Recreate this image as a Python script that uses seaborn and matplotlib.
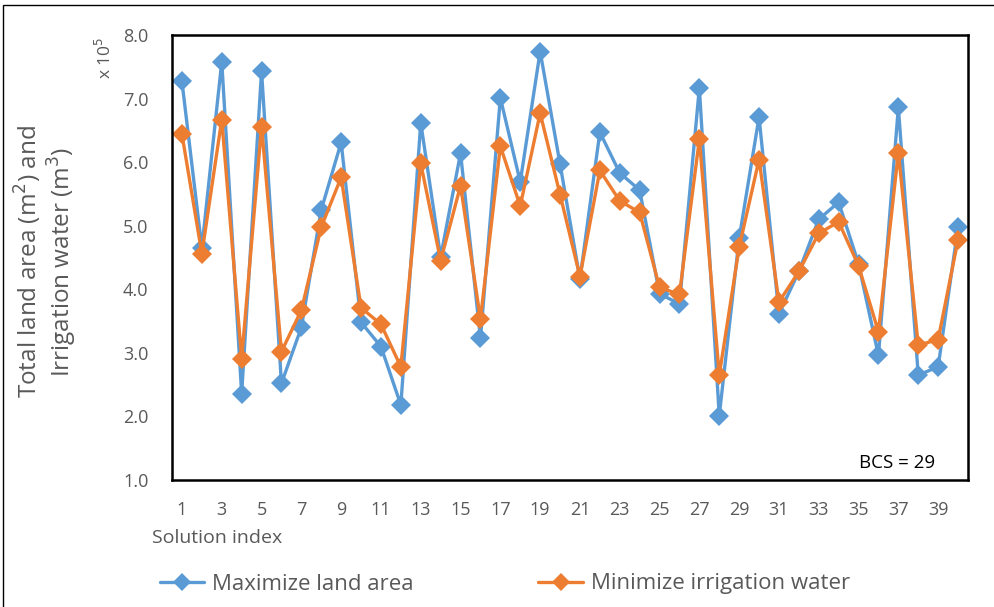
import numpy as np
import pandas as pd
import seaborn as sns
import matplotlib.pyplot as plt
from matplotlib.patches import Rectangle
from matplotlib.lines import Line2D

solution_index = list(range(1, 41))
land_area = [7.27, 4.65, 7.58, 2.36, 7.43, 2.52, 3.40, 5.25, 6.31, 3.48,
             3.10, 2.18, 6.62, 4.51, 6.14, 3.23, 7.01, 5.69, 7.74, 5.97,
             4.16, 6.47, 5.83, 5.56, 3.93, 3.77, 7.17, 2.01, 4.80, 6.71,
             3.61, 4.28, 5.10, 5.37, 4.40, 2.96, 6.86, 2.65, 2.78, 4.98]
irrigation_water = [6.44, 4.56, 6.67, 2.91, 6.56, 3.02, 3.67, 4.98, 5.76, 3.71,
                    3.45, 2.78, 5.98, 4.45, 5.63, 3.53, 6.25, 5.31, 6.77, 5.49,
                    4.20, 5.87, 5.39, 5.21, 4.03, 3.92, 6.36, 2.65, 4.66, 6.04,
                    3.80, 4.28, 4.88, 5.06, 4.37, 3.33, 6.15, 3.12, 3.21, 4.78]
series_names = ["Maximize land area", "Minimize irrigation water"]
colors = ["#5B9BD5", "#ED7D31"]
y_ticks = [1.0, 2.0, 3.0, 4.0, 5.0, 6.0, 7.0, 8.0]
x_ticks = list(range(1, 41, 2))

df = pd.DataFrame({
    "Solution index": solution_index * 2,
    "value": land_area + irrigation_water,
    "series": [series_names[0]] * 40 + [series_names[1]] * 40,
})

sns.set_theme(style="white")
plt.rcParams["font.family"] = ["Open Sans", "DejaVu Sans"]
text_color = "#595959"

fig = plt.figure(figsize=(9.94, 6.07), dpi=100)
ax = fig.add_axes([172 / 994, 1 - 480 / 607, (968 - 172) / 994, (480 - 35) / 607])

sns.lineplot(data=df, x="Solution index", y="value", hue="series",
             palette=colors, marker="D", markersize=10, linewidth=2.4,
             markeredgewidth=0, ax=ax, legend=False)

ax.set_xlim(0.5, 40.5)
ax.set_ylim(1.0, 8.0)
ax.set_yticks(y_ticks)
ax.set_yticklabels([f"{v:.1f}" for v in y_ticks])
ax.set_xticks(x_ticks)
ax.set_xticklabels([str(v) for v in x_ticks])
ax.tick_params(axis="both", length=0, labelsize=13, colors=text_color)
ax.tick_params(axis="y", pad=17)
ax.tick_params(axis="x", pad=15)
for s in ax.spines.values():
    s.set_visible(True)
    s.set_color("black")
    s.set_linewidth(1.8)

ax.set_xlabel("")
ax.set_ylabel("")
fig.text(152 / 994, 1 - 538 / 607, "Solution index", fontsize=14,
         color=text_color, ha="left", va="center")
fig.text(46 / 994, 1 - 262 / 607,
         "Total land area (m$^2$) and\nIrrigation water (m$^3$)",
         rotation=90, fontsize=17.5, color=text_color, ha="center",
         va="center", multialignment="center", linespacing=1.05)
fig.text(105 / 994, 1 - 58 / 607, "x 10$^5$", rotation=90, fontsize=12.5,
         color=text_color, ha="center", va="center")
ax.text((935 - 172) / 796, (480 - 472) / 445, "BCS = 29",
        transform=ax.transAxes, fontsize=13.5, color="black",
        ha="right", va="bottom")

handles = [Line2D([0], [0], color=c, marker="D", markersize=9,
                  markeredgewidth=0, linewidth=2.4) for c in colors]
fig.legend(handles, series_names, loc="center left",
           bbox_to_anchor=(140 / 994, 1 - 584 / 607), ncol=2, frameon=False,
           fontsize=16, handlelength=2.0, handletextpad=0.35,
           columnspacing=5.6, labelcolor=text_color)

fig.add_artist(Rectangle((3 / 994, -0.1), 1.2, (607 - 5) / 607 + 0.1,
                         transform=fig.transFigure, fill=False,
                         edgecolor="black", linewidth=1.0))

fig.savefig("out.png", dpi=100)
